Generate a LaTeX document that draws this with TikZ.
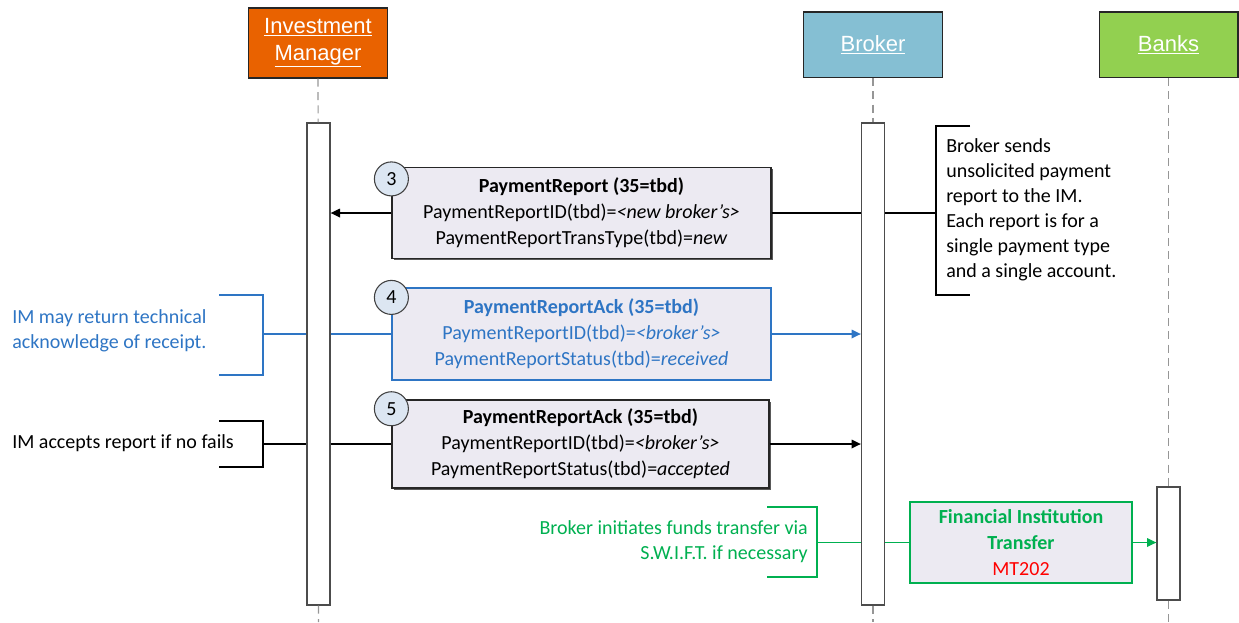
\documentclass[tikz,border=0pt]{standalone}
\usepackage{fontspec}
\setmainfont{Carlito}
\newfontfamily\headfont{Liberation Sans}
\usetikzlibrary{arrows.meta,shadows}

\definecolor{imorange}{RGB}{233,98,0}
\definecolor{brblue}{RGB}{133,191,211}
\definecolor{bkgreen}{RGB}{146,208,80}
\definecolor{msgfill}{RGB}{236,234,242}
\definecolor{numfill}{RGB}{220,230,242}
\definecolor{noteblue}{RGB}{46,117,196}
\definecolor{notegreen}{RGB}{0,176,80}
\definecolor{lifegray}{RGB}{150,150,150}

\tikzset{
  boxshadow/.style={drop shadow={shadow xshift=1.3pt,shadow yshift=-1.3pt,fill=black!65,opacity=1}},
  actor/.style={draw=black!85, line width=1pt, minimum width=104pt, minimum height=49pt,
    text=white, align=center, font=\headfont\fontsize{16.5}{20}\selectfont},
  bar/.style={draw=black!70, fill=white, line width=1pt, minimum width=17.25pt, inner sep=0pt},
  lifeline/.style={lifegray, line width=0.9pt, dash pattern=on 6pt off 4pt},
  msgbox/.style={draw=black!85, fill=msgfill, line width=0.9pt, minimum width=284.25pt,
    minimum height=68.25pt, align=center, font=\fontsize{15}{19.5}\selectfont},
  num/.style={circle, draw=black!75, fill=numfill, line width=0.8pt, minimum size=25.5pt,
    inner sep=0pt, font=\fontsize{15}{18}\selectfont},
  note/.style={inner sep=0pt, font=\fontsize{15}{18.75}\selectfont},
  msgline/.style={line width=0.9pt},
  tip/.style={-{Triangle[length=7pt,width=6.5pt]}}
}

\begin{document}
\begin{tikzpicture}[x=0.75pt,y=-0.75pt]
\useasboundingbox (0,0) rectangle (1239,622);

% actors
\node[actor, fill=imorange, minimum height=52.5pt] (im) at (318,43) {\underline{Investment}\\\underline{Manager}};
\node[actor, fill=brblue] (broker) at (873,44.5) {\underline{Broker}};
\node[actor, fill=bkgreen] (banks) at (1168.5,44.5) {\underline{Banks}};

% activation bars and lifelines
\node[bar, minimum height=361.5pt] (imbar) at (318.5,364) {};
\node[bar, minimum height=361.5pt] (brbar) at (873,364) {};
\node[bar, minimum height=84.75pt] (bkbar) at (1168.5,543.5) {};
\coordinate (imend) at (318.5,622);
\coordinate (brend) at (873,622);
\coordinate (bkend) at (1168.5,622);
\draw[lifeline] (im) -- (imbar) (imbar) -- (imend);
\draw[lifeline] (broker) -- (brbar) (brbar) -- (brend);
\draw[lifeline] (banks) -- (bkbar) (bkbar) -- (bkend);

% 3: payment report
\node[msgbox, boxshadow] (msg3) at (581.5,213) {\textbf{PaymentReport (35=tbd)}\\PaymentReportID(tbd)=\textit{<new broker's>}\\PaymentReportTransType(tbd)=\textit{new}};
\node[num] (n3) at ([yshift=-9pt]msg3.north west) {3};
\draw[msgline] (brbar.west |- msg3.east) -- (msg3.east);
\draw[msgline, tip] (msg3.west) -- (imbar.east |- msg3.west);

\node[note, anchor=west, align=left] (note3) at (946,210) {Broker sends\\unsolicited payment\\report to the IM.\\Each report is for a\\single payment type\\and a single account.};
\draw[msgline] (970,126) -- (936,126) -- (936,295) -- (970,295);
\coordinate (b3) at (936,213);
\draw[msgline] (brbar.east |- b3) -- (b3);

% 4: technical ack
\node[msgbox, draw=noteblue, text=noteblue, minimum height=69pt] (msg4) at (581.5,334) {\textbf{PaymentReportAck (35=tbd)}\\PaymentReportID(tbd)=\textit{<broker's>}\\PaymentReportStatus(tbd)=\textit{received}};
\node[num] (n4) at ([yshift=-7.5pt]msg4.north west) {4};
\draw[msgline, noteblue] (imbar.east |- msg4.west) -- (msg4.west);
\draw[msgline, noteblue, tip] (msg4.east) -- (brbar.west |- msg4.east);

\node[note, anchor=west, align=left, text=noteblue] (note4) at (12,331) {IM may return technical\\acknowledge of receipt.};
\draw[msgline, noteblue] (219,295) -- (263,295) -- (263,375) -- (219,375);
\coordinate (b4) at (263,334);
\draw[msgline, noteblue] (b4) -- (imbar.west |- b4);

% 5: accepted
\node[msgbox, boxshadow, minimum width=282.75pt, minimum height=66pt] (msg5) at (580.5,444) {\textbf{PaymentReportAck (35=tbd)}\\PaymentReportID(tbd)=\textit{<broker's>}\\PaymentReportStatus(tbd)=\textit{accepted}};
\node[num] (n5) at ([yshift=-7pt]msg5.north west) {5};
\draw[msgline] (imbar.east |- msg5.west) -- (msg5.west);
\draw[msgline, tip] (msg5.east) -- (brbar.west |- msg5.east);

\node[note, anchor=west] (note5) at (12,443) {IM accepts report if no fails};
\draw[msgline] (219,421) -- (263,421) -- (263,467) -- (219,467);
\coordinate (b5) at (263,444);
\draw[msgline] (b5) -- (imbar.west |- b5);

% funds transfer
\node[msgbox, draw=notegreen, text=notegreen, minimum width=166.5pt, minimum height=60.75pt] (fit) at (1021,542.5) {\textbf{Financial Institution}\\\textbf{Transfer}\\\textcolor{red}{MT202}};
\draw[msgline, notegreen] (brbar.east |- fit.west) -- (fit.west);
\draw[msgline, notegreen, tip] (fit.east) -- (bkbar.west |- fit.east);

\node[note, anchor=east, align=right, text=notegreen] (notefit) at (808,542) {Broker initiates funds transfer via\\S.W.I.F.T. if necessary};
\draw[msgline, notegreen] (767,507) -- (817,507) -- (817,577) -- (767,577);
\coordinate (bfit) at (817,542.5);
\draw[msgline, notegreen] (bfit) -- (brbar.west |- bfit);
\end{tikzpicture}
\end{document}
